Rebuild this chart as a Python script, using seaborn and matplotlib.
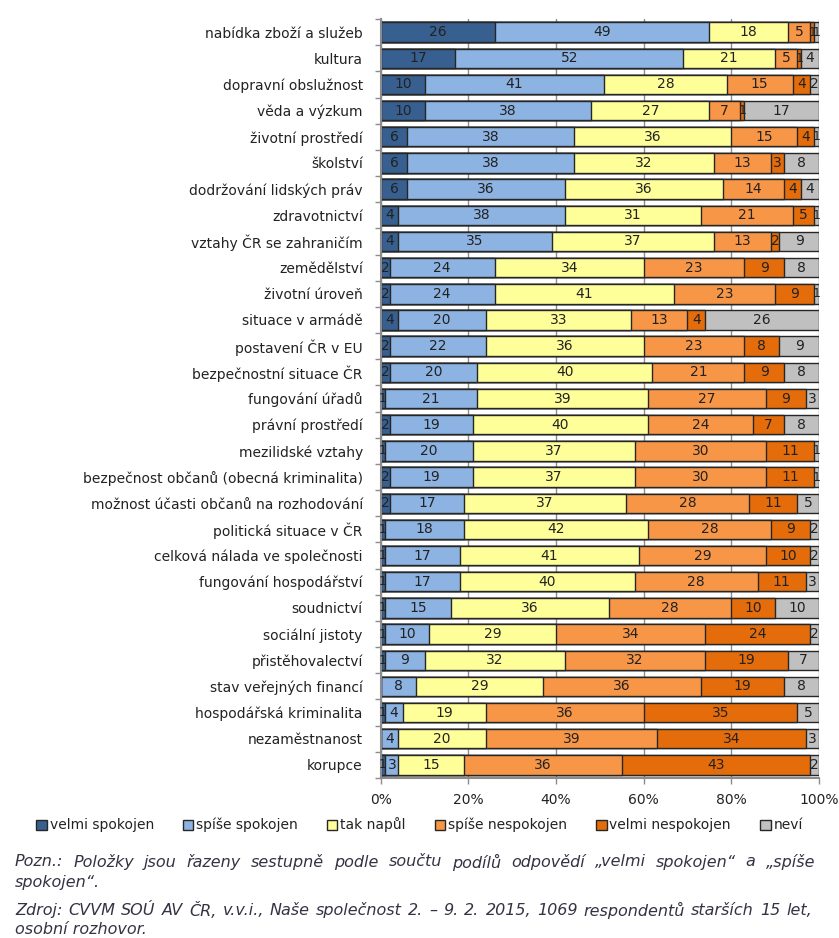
import numpy as np
import pandas as pd
import matplotlib
matplotlib.use('Agg')
import matplotlib.pyplot as plt
from matplotlib.patches import Patch
import seaborn as sns

# data: podíly odpovědí v %
polozky = ['nabídka zboží a služeb', 'kultura', 'dopravní obslužnost', 'věda a výzkum',
           'životní prostředí', 'školství', 'dodržování lidských práv', 'zdravotnictví',
           'vztahy ČR se zahraničím', 'zemědělství', 'životní úroveň', 'situace v armádě',
           'postavení ČR v EU', 'bezpečnostní situace ČR', 'fungování úřadů',
           'právní prostředí', 'mezilidské vztahy', 'bezpečnost občanů (obecná kriminalita)',
           'možnost účasti občanů na rozhodování', 'politická situace v ČR',
           'celková nálada ve společnosti', 'fungování hospodářství', 'soudnictví',
           'sociální jistoty', 'přistěhovalectví', 'stav veřejných financí',
           'hospodářská kriminalita', 'nezaměstnanost', 'korupce']
velmi_spokojen = [26, 17, 10, 10, 6, 6, 6, 4, 4, 2, 2, 4, 2, 2, 1, 2, 1, 2, 2, 1, 1, 1, 1, 1, 1, 0, 1, 0, 1]
spise_spokojen = [49, 52, 41, 38, 38, 38, 36, 38, 35, 24, 24, 20, 22, 20, 21, 19, 20, 19, 17, 18, 17, 17, 15, 10, 9, 8, 4, 4, 3]
tak_napul = [18, 21, 28, 27, 36, 32, 36, 31, 37, 34, 41, 33, 36, 40, 39, 40, 37, 37, 37, 42, 41, 40, 36, 29, 32, 29, 19, 20, 15]
spise_nespokojen = [5, 5, 15, 7, 15, 13, 14, 21, 13, 23, 23, 13, 23, 21, 27, 24, 30, 30, 28, 28, 29, 28, 28, 34, 32, 36, 36, 39, 36]
velmi_nespokojen = [1, 1, 4, 1, 4, 3, 4, 5, 2, 9, 9, 4, 8, 9, 9, 7, 11, 11, 11, 9, 10, 11, 10, 24, 19, 19, 35, 34, 43]
nevi = [1, 4, 2, 17, 1, 8, 4, 1, 9, 8, 1, 26, 9, 8, 3, 8, 1, 1, 5, 2, 2, 3, 10, 2, 7, 8, 5, 3, 2]

kategorie = ['velmi spokojen', 'spíše spokojen', 'tak napůl', 'spíše nespokojen',
             'velmi nespokojen', 'neví']
barvy = ['#375F8F', '#8DB3E2', '#FFFF99', '#F79646', '#E46C0A', '#C0C0C0']

df = pd.DataFrame({'polozka': polozky})
for k, v in zip(kategorie, [velmi_spokojen, spise_spokojen, tak_napul,
                            spise_nespokojen, velmi_nespokojen, nevi]):
    df[k] = v
kum = df[kategorie].cumsum(axis=1)   # kumulativní součty pro skládání

sns.set_style('white')
plt.rcParams['font.family'] = ['DejaVu Sans']

fig = plt.figure(figsize=(8.39, 9.38), dpi=100)
ax = fig.add_axes([0.454, 0.1706, 0.522, 0.8091])

# skládané pruhy: kreslit od největšího kumulativního součtu
for k, c in reversed(list(zip(kategorie, barvy))):
    sns.barplot(x=kum[k], y=df['polozka'], color=c, orient='h', width=0.74,
                edgecolor='#262626', linewidth=1, saturation=1, ax=ax)

# popisky hodnot (jednotky u okraje trochu menší)
for i, k in enumerate(kategorie):
    stred = kum[k] - df[k] / 2
    for j, (v, s) in enumerate(zip(df[k], stred)):
        if v > 0:
            ax.text(s, j, str(v), ha='center', va='center',
                    fontsize=10 if v > 1 else 9, color='#222222')

ax.set_xlim(0, 100)
ax.set_ylim(len(polozky) - 0.5, -0.5)
ax.set_xticks([0, 20, 40, 60, 80, 100])
ax.set_xticklabels(['0%', '20%', '40%', '60%', '80%', '100%'])
ax.set_yticks(np.arange(-0.5, len(polozky), 1), minor=True)
ax.tick_params(axis='y', which='major', length=0, pad=13, labelsize=10, labelcolor='#222222')
ax.tick_params(axis='y', which='minor', length=4, color='#8c8c8c', width=1, left=True)
ax.tick_params(axis='x', length=4, color='#8c8c8c', width=1, pad=7, labelsize=10,
               labelcolor='#222222', bottom=True)
ax.set_xlabel('')
ax.set_ylabel('')
ax.xaxis.grid(True, color='#8c8c8c', linewidth=1)
ax.set_axisbelow(True)
for s in ['top', 'right']:
    ax.spines[s].set_visible(False)
for s in ['left', 'bottom']:
    ax.spines[s].set_color('#8c8c8c')
    ax.spines[s].set_linewidth(1.5)

# legenda
handles = [Patch(facecolor=c, edgecolor='#262626', label=k) for k, c in zip(kategorie, barvy)]
fig.legend(handles=handles, loc='center', bbox_to_anchor=(0.5, 1 - 825 / 938), ncol=6,
           frameon=False, fontsize=10, handlelength=0.75, handleheight=0.75,
           handletextpad=0.2, columnspacing=2.1, labelcolor='#222222')

# poznámky pod grafem (první řádky zarovnané do bloku)
renderer = fig.canvas.get_renderer()


def blok(text, y, x0=15, x1=815, **kw):
    slova = text.split(' ')
    objs = [fig.text(0, 1 - y / 938, w, va='center', **kw) for w in slova]
    sirky = [o.get_window_extent(renderer).width for o in objs]
    mezera = (x1 - x0 - sum(sirky)) / (len(slova) - 1)
    x = x0
    for o, w in zip(objs, sirky):
        o.set_x(x / 839)
        x += w + mezera


styl = dict(fontsize=11.5, style='italic', color='#333344')
blok('Pozn.: Položky jsou řazeny sestupně podle součtu podílů odpovědí „velmi spokojen“ a „spíše',
     862, **styl)
fig.text(15 / 839, 1 - 882 / 938, 'spokojen“.', va='center', **styl)
blok('Zdroj: CVVM SOÚ AV ČR, v.v.i., Naše společnost 2. – 9. 2. 2015, 1069 respondentů starších 15 let,',
     910, x1=812, **styl)
fig.text(15 / 839, 1 - 929 / 938, 'osobní rozhovor.', va='center', **styl)

plt.savefig('out.png', dpi=100)
